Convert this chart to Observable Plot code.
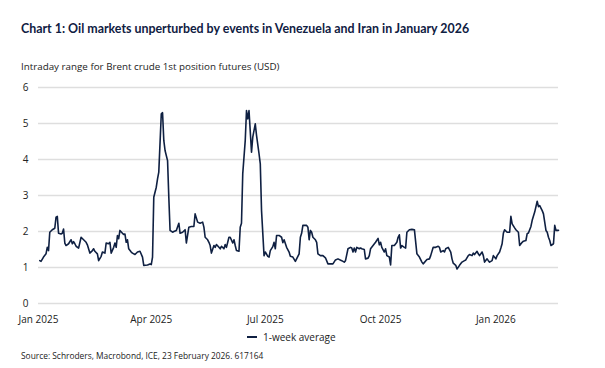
<!DOCTYPE html>
<html><head><meta charset="utf-8">
<script src="https://cdn.jsdelivr.net/npm/d3@7"></script>
<script src="https://cdn.jsdelivr.net/npm/@observablehq/plot@0.6"></script>
<style>
body{margin:0;width:605px;height:368px;position:relative;background:#fff;font-family:"Open Sans",sans-serif;overflow:hidden}
.t{position:absolute;left:21px;top:21px;font-family:Lato,sans-serif;font-weight:700;font-size:12.4px;color:#0f2042;white-space:nowrap}
.s{position:absolute;left:21px;top:60px;font-size:9.8px;color:#222;white-space:nowrap}
#chart{position:absolute;left:0;top:78px}
.leg{position:absolute;top:330px;left:247px;font-size:10px;color:#222;display:flex;align-items:center;white-space:nowrap}
.leg .sw{display:inline-block;width:10px;height:2px;background:#0f2042;margin-right:6px}
.src{position:absolute;left:21px;top:350px;font-size:8.4px;color:#222;white-space:nowrap}
</style></head>
<body>
<div class="t">Chart 1: Oil markets unperturbed by events in Venezuela and Iran in January 2026</div>
<div class="s">Intraday range for Brent crude 1st position futures (USD)</div>
<div id="chart"></div>
<div class="leg"><span class="sw"></span><span>1-week average</span></div>
<div class="src">Source: Schroders, Macrobond, ICE, 23 February 2026. 617164</div>
<script>
const seriesName = "1-week average";
const dates = [
"2025-01-02","2025-01-03","2025-01-05","2025-01-07","2025-01-08","2025-01-09","2025-01-10","2025-01-12","2025-01-13","2025-01-14",
"2025-01-15","2025-01-16","2025-01-17","2025-01-19","2025-01-20","2025-01-21","2025-01-22","2025-01-23","2025-01-25","2025-01-27",
"2025-01-28","2025-01-29","2025-01-30","2025-01-31","2025-02-02","2025-02-04","2025-02-06","2025-02-08","2025-02-09","2025-02-11",
"2025-02-13","2025-02-14","2025-02-15","2025-02-17","2025-02-18","2025-02-20","2025-02-21","2025-02-23","2025-02-24","2025-02-26",
"2025-02-27","2025-02-28","2025-03-02","2025-03-03","2025-03-04","2025-03-05","2025-03-06","2025-03-07","2025-03-09","2025-03-10",
"2025-03-11","2025-03-12","2025-03-13","2025-03-14","2025-03-16","2025-03-17","2025-03-19","2025-03-21","2025-03-23","2025-03-25",
"2025-03-26","2025-03-29","2025-03-31","2025-04-01","2025-04-02","2025-04-03","2025-04-05","2025-04-06","2025-04-07","2025-04-09",
"2025-04-10","2025-04-11","2025-04-12","2025-04-14","2025-04-15","2025-04-16","2025-04-18","2025-04-19","2025-04-21","2025-04-23",
"2025-04-24","2025-04-26","2025-04-28","2025-04-29","2025-05-01","2025-05-03","2025-05-05","2025-05-06","2025-05-08","2025-05-10",
"2025-05-12","2025-05-13","2025-05-14","2025-05-16","2025-05-17","2025-05-18","2025-05-19","2025-05-21","2025-05-22","2025-05-23",
"2025-05-25","2025-05-26","2025-05-27","2025-05-29","2025-05-30","2025-05-31","2025-06-02","2025-06-03","2025-06-05","2025-06-06",
"2025-06-07","2025-06-08","2025-06-10","2025-06-11","2025-06-12","2025-06-13","2025-06-15","2025-06-16","2025-06-17","2025-06-18",
"2025-06-20","2025-06-21","2025-06-23","2025-06-24","2025-06-26","2025-06-27","2025-06-28","2025-06-30","2025-07-01","2025-07-03",
"2025-07-04","2025-07-05","2025-07-07","2025-07-08","2025-07-09","2025-07-10","2025-07-12","2025-07-14","2025-07-15","2025-07-16",
"2025-07-18","2025-07-20","2025-07-21","2025-07-23","2025-07-25","2025-07-26","2025-07-28","2025-07-29","2025-07-30","2025-07-31",
"2025-08-03","2025-08-04","2025-08-05","2025-08-06","2025-08-07","2025-08-08","2025-08-10","2025-08-11","2025-08-12","2025-08-14",
"2025-08-16","2025-08-18","2025-08-20","2025-08-22","2025-08-24","2025-08-26","2025-08-28","2025-08-31","2025-09-02","2025-09-03",
"2025-09-05","2025-09-07","2025-09-08","2025-09-09","2025-09-10","2025-09-11","2025-09-12","2025-09-14","2025-09-15","2025-09-16",
"2025-09-18","2025-09-19","2025-09-21","2025-09-22","2025-09-23","2025-09-25","2025-09-27","2025-09-29","2025-09-30","2025-10-01",
"2025-10-02","2025-10-04","2025-10-05","2025-10-06","2025-10-08","2025-10-09","2025-10-10","2025-10-12","2025-10-14","2025-10-15",
"2025-10-16","2025-10-17","2025-10-18","2025-10-20","2025-10-21","2025-10-22","2025-10-24","2025-10-26","2025-10-28","2025-10-30",
"2025-11-01","2025-11-02","2025-11-03","2025-11-04","2025-11-07","2025-11-09","2025-11-10","2025-11-12","2025-11-14","2025-11-16",
"2025-11-17","2025-11-18","2025-11-20","2025-11-21","2025-11-22","2025-11-24","2025-11-26","2025-11-27","2025-11-28","2025-11-30",
"2025-12-01","2025-12-03","2025-12-05","2025-12-07","2025-12-08","2025-12-10","2025-12-11","2025-12-13","2025-12-14","2025-12-15",
"2025-12-17","2025-12-18","2025-12-19","2025-12-21","2025-12-22","2025-12-23","2025-12-25","2025-12-26","2025-12-27","2025-12-29",
"2025-12-30","2026-01-01","2026-01-02","2026-01-04","2026-01-05","2026-01-06","2026-01-07","2026-01-08","2026-01-10","2026-01-12",
"2026-01-13","2026-01-14","2026-01-16","2026-01-17","2026-01-19","2026-01-20","2026-01-22","2026-01-23","2026-01-25","2026-01-26",
"2026-01-27","2026-01-29","2026-01-30","2026-02-01","2026-02-03","2026-02-04","2026-02-05","2026-02-07","2026-02-08","2026-02-10",
"2026-02-11","2026-02-12","2026-02-13","2026-02-14","2026-02-16","2026-02-17","2026-02-18","2026-02-20"
];
const values = [
1.19,1.17,1.29,1.38,1.56,1.47,1.98,2.05,2.07,2.09,
2.40,2.42,1.95,1.93,1.95,2.07,1.68,1.61,1.66,1.77,
1.66,1.72,1.66,1.59,1.54,1.84,1.77,1.70,1.63,1.40,
1.47,1.52,1.45,1.38,1.19,1.31,1.43,1.40,1.68,1.66,
1.70,1.40,1.56,1.68,1.56,1.89,1.80,2.03,1.95,1.92,
1.93,1.70,1.77,1.52,1.43,1.40,1.36,1.43,1.45,1.29,
1.06,1.07,1.10,1.08,1.29,2.95,3.23,3.46,3.65,5.27,
5.30,4.53,4.25,3.97,2.95,2.03,1.98,2.00,2.03,2.23,
1.95,1.98,2.05,1.68,2.12,2.14,2.14,2.49,2.26,2.23,
2.26,2.12,1.84,1.77,1.70,1.61,1.40,1.61,1.56,1.64,
1.56,1.52,1.59,1.52,1.64,1.56,1.84,1.84,1.68,1.77,
1.61,1.47,1.45,2.12,2.23,3.60,4.53,5.36,5.13,5.36,
4.20,4.62,4.99,4.67,4.16,3.88,2.58,1.33,1.43,1.31,
1.29,1.47,1.58,1.70,1.52,1.89,1.89,1.84,1.69,1.77,
1.56,1.43,1.31,1.29,1.17,1.24,1.38,1.84,1.95,2.17,
2.17,2.12,1.77,2.03,1.98,1.84,1.77,1.70,1.38,1.33,
1.33,1.27,1.10,1.10,1.10,1.21,1.24,1.19,1.15,1.19,
1.52,1.56,1.54,1.43,1.54,1.43,1.56,1.52,1.54,1.52,
1.50,1.24,1.26,1.33,1.52,1.61,1.70,1.81,1.63,1.70,
1.56,1.43,1.52,1.33,1.29,1.07,1.61,1.61,1.70,1.84,
1.91,1.54,1.61,1.56,1.54,1.98,2.05,2.06,2.05,1.38,
1.29,1.22,1.15,1.10,1.22,1.24,1.33,1.56,1.56,1.59,
1.56,1.43,1.47,1.43,1.52,1.56,1.43,1.24,1.12,1.06,
0.96,1.06,1.15,1.19,1.21,1.33,1.36,1.33,1.40,1.36,
1.45,1.38,1.33,1.43,1.33,1.15,1.24,1.19,1.15,1.19,
1.33,1.24,1.33,1.43,1.54,1.66,1.95,2.05,1.98,1.98,
2.42,2.21,2.10,2.05,1.98,1.61,1.70,1.73,1.75,1.94,
1.96,2.14,2.31,2.54,2.84,2.69,2.72,2.58,2.49,2.03,
1.98,1.84,1.75,1.61,1.66,2.17,2.03,2.03
];
const xDomain = ["2025-01-01", "2026-02-20"];
const xTicks = ["2025-01-01", "2025-04-01", "2025-07-01", "2025-10-01", "2026-01-01"];
const xTickLabels = ["Jan 2025", "Apr 2025", "Jul 2025", "Oct 2025", "Jan 2026"];
const yTicks = [0, 1, 2, 3, 4, 5, 6];

const data = dates.map((d, i) => ({date: new Date(d), value: values[i]}));
const labelMap = new Map(xTicks.map((d, i) => [+new Date(d), xTickLabels[i]]));

const chart = Plot.plot({
  width: 605, height: 250,
  marginTop: 9, marginBottom: 25, marginLeft: 38, marginRight: 47,
  style: {fontFamily: "Open Sans", fontSize: "10px", color: "#222", background: "transparent", overflow: "visible"},
  x: {type: "utc", domain: xDomain.map(d => new Date(d))},
  y: {domain: [0, 6]},
  marks: [
    Plot.ruleY(yTicks, {stroke: "#dedede", strokeWidth: 1.5}),
    Plot.axisY(yTicks, {tickSize: 0, tickPadding: 10, label: null}),
    Plot.axisX(xTicks.map(d => new Date(d)), {tickSize: 0, tickPadding: 12, label: null, tickFormat: d => labelMap.get(+d)}),
    Plot.lineY(data, {x: "date", y: "value", stroke: "#0f2042", strokeWidth: 1.6})
  ]
});
document.getElementById("chart").appendChild(chart);
</script>
</body></html>
